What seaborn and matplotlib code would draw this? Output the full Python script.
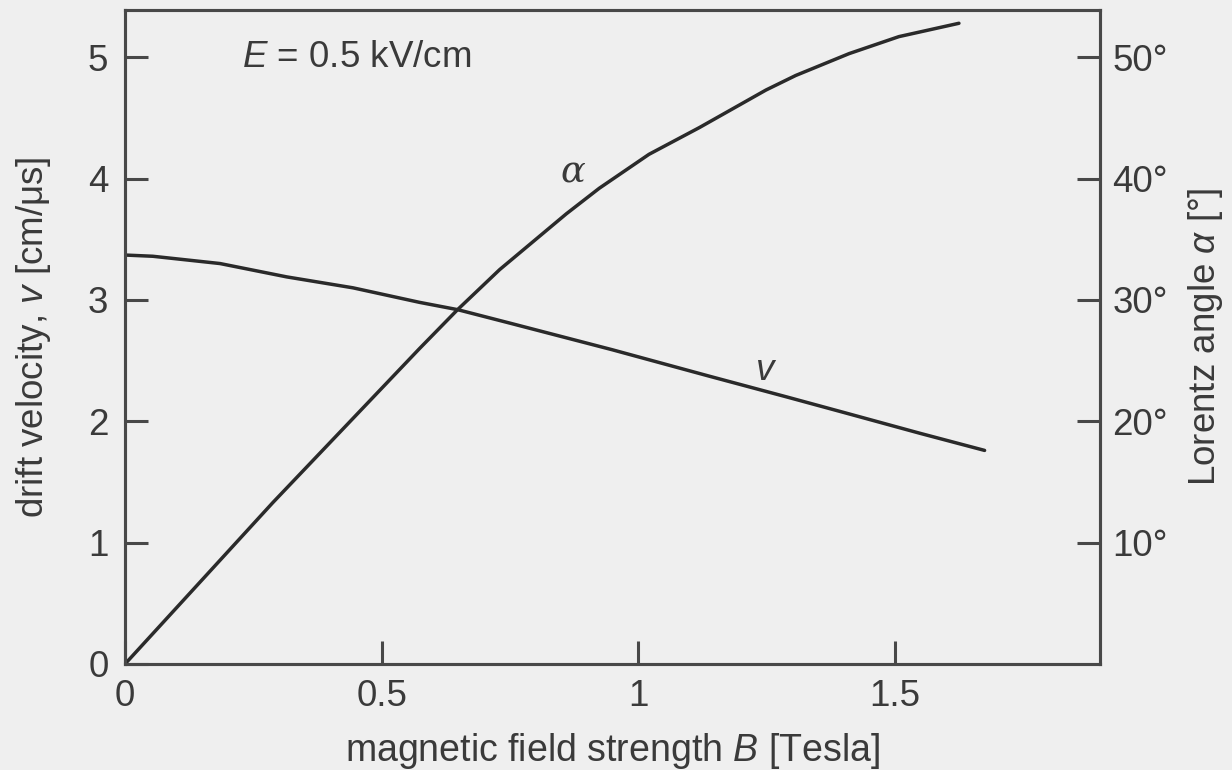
import matplotlib
matplotlib.use('Agg')
import matplotlib.pyplot as plt
import seaborn as sns

# magnetic field (Tesla) and drift velocity (cm/us)
B_v = [0.0, 0.054, 0.185, 0.315, 0.444, 0.574, 0.648, 0.749, 0.949, 1.14, 1.29, 1.403, 1.55, 1.675]
v = [3.37, 3.36, 3.30, 3.19, 3.10, 2.98, 2.92, 2.81, 2.59, 2.37, 2.20, 2.07, 1.90, 1.76]

# Lorentz angle (degrees)
B_a = [0.0, 0.288, 0.574, 0.648, 0.73, 0.86, 0.924, 1.021, 1.119, 1.249, 1.307, 1.411, 1.508, 1.625]
alpha = [0.0, 13.3, 26.0, 29.2, 32.5, 37.1, 39.2, 42.0, 44.2, 47.3, 48.5, 50.3, 51.7, 52.8]

x_ticks = [0, 0.5, 1, 1.5]
x_tick_labels = ['0', '0.5', '1', '1.5']
v_ticks = [0, 1, 2, 3, 4, 5]
a_ticks = [10, 20, 30, 40, 50]
a_tick_labels = ['10°', '20°', '30°', '40°', '50°']

sns.set_theme(style='ticks')
plt.rcParams['font.family'] = ['Liberation Sans', 'DejaVu Sans']
plt.rcParams['mathtext.fontset'] = 'custom'
plt.rcParams['mathtext.rm'] = 'Liberation Sans'
plt.rcParams['mathtext.it'] = 'Liberation Sans:italic'

ink = '#2a2a2a'
frame = '#484848'
txt = '#3a3a3a'
bg = '#efefef'
fs = 26.5

fig = plt.figure(figsize=(12.32, 7.7), dpi=100, facecolor=bg)
ax = fig.add_axes([0.1015, 0.1377, 0.7914, 0.8494])
ax.set_facecolor(bg)

sns.lineplot(x=B_v, y=v, ax=ax, color=ink, linewidth=2.5)
ax2 = ax.twinx()
sns.lineplot(x=B_a, y=alpha, ax=ax2, color=ink, linewidth=2.5)

ax.set_xlim(0, 1.9)
ax.set_ylim(0, 5.39)
ax2.set_ylim(0, 53.9)

ax.set_xticks(x_ticks, x_tick_labels)
ax.set_yticks(v_ticks)
ax2.set_yticks(a_ticks, a_tick_labels)

for a in (ax, ax2):
    for s in a.spines.values():
        s.set_visible(True)
        s.set_color(frame)
        s.set_linewidth(2.2)
ax.tick_params(axis='both', direction='in', length=16.5, width=2.2, color=frame,
               labelsize=fs, labelcolor=txt)
ax.tick_params(axis='x', pad=11)
ax.tick_params(axis='y', pad=12)
ax2.tick_params(axis='y', direction='in', length=16.5, width=2.2, color=frame,
                labelsize=fs, labelcolor=txt, pad=9)

ax.set_xlabel('magnetic field strength $B$ [Tesla]', fontsize=27, color=txt)
ax.set_ylabel('drift velocity, $v$ [cm/μs]', fontsize=fs, color=txt)
ax2.set_ylabel('Lorentz angle $α$ [°]', fontsize=fs, color=txt)
ax.xaxis.set_label_coords(0.5, -0.103)
ax.yaxis.set_label_coords(-0.074, 0.5)
ax2.yaxis.set_label_coords(1.088, 0.5)

ax.text(0.228, 5.0, '$E$ = 0.5 kV/cm', fontsize=fs, color=txt, va='center', ha='left')
ax.text(0.872, 4.05, 'α', fontsize=fs, color=txt, va='center', ha='center',
        family='DejaVu Serif', style='italic')
ax.text(1.247, 2.42, 'v', fontsize=fs, color=txt, va='center', ha='center', style='italic')

fig.savefig('out.png', dpi=100, facecolor=bg)
